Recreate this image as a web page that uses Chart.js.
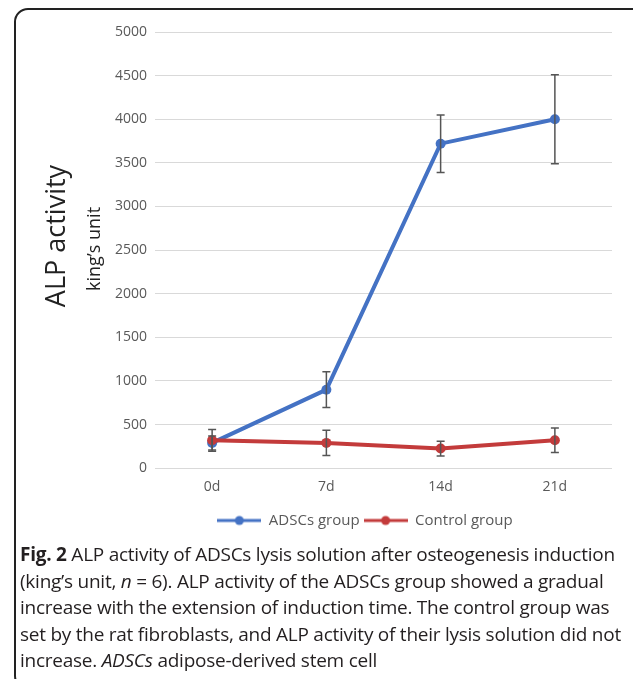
<!DOCTYPE html>
<html>
<head>
<meta charset="utf-8">
<script src="https://cdn.jsdelivr.net/npm/chart.js@4.4.1/dist/chart.umd.min.js"></script>
<style>
	html, body { margin: 0; padding: 0; width: 633px; height: 679px; overflow: hidden; background: #fff; }
	#frame { position: absolute; left: 14px; top: 8px; width: 640px; height: 682px; border: 2px solid #222; border-radius: 14px; box-sizing: border-box; }
	#wrap { position: absolute; left: 0; top: 0; width: 633px; height: 544px; }
	.ytitle { position: absolute; transform: translate(-50%, -50%) rotate(-90deg); white-space: nowrap; color: #222; font-family: "Open Sans", sans-serif; }
	#caption { position: absolute; left: 20px; top: 541px; font-family: "Open Sans", sans-serif; font-size: 19px; line-height: 26.5px; color: #231f20; white-space: nowrap; letter-spacing: -0.25px; }
</style>
</head>
<body>
<div id="frame"></div>
<div id="wrap"><canvas id="mycanvas"></canvas></div>
<div class="ytitle" style="left:54px; top:236px; font-size:27px;">ALP activity</div>
<div class="ytitle" style="left:93px; top:249px; font-size:18px;">king’s unit</div>
<div id="caption">
<b>Fig. 2</b> ALP activity of ADSCs lysis solution after osteogenesis induction<br>
(king’s unit, <i>n</i> = 6). ALP activity of the ADSCs group showed a gradual<br>
increase with the extension of induction time. The control group was<br>
set by the rat fibroblasts, and ALP activity of their lysis solution did not<br>
increase. <i>ADSCs</i> adipose-derived stem cell
</div>
<script>
var days = ['0d', '7d', '14d', '21d'];
var adscs = [290, 900, 3720, 4000];
var adscsErr = [80, 205, 330, 510];
var control = [320, 290, 225, 320];
var controlErr = [125, 145, 85, 140];
var yTicks = [0, 500, 1000, 1500, 2000, 2500, 3000, 3500, 4000, 4500, 5000];

var blue = '#4472C4';
var red = '#C33B3B';

function legendIcon(color) {
	var c = document.createElement('canvas');
	c.width = 44;
	c.height = 12;
	var g = c.getContext('2d');
	g.strokeStyle = color;
	g.lineWidth = 3;
	g.beginPath();
	g.moveTo(0, 6);
	g.lineTo(44, 6);
	g.stroke();
	g.fillStyle = color;
	g.beginPath();
	g.arc(22, 6, 4.5, 0, Math.PI * 2);
	g.fill();
	return c;
}

var errorBars = {
	id: 'errorBars',
	afterDatasetsDraw: function(chart) {
		var ctx = chart.ctx;
		var x = chart.scales.x, y = chart.scales.y;
		var sets = [[adscs, adscsErr], [control, controlErr]];
		ctx.save();
		ctx.strokeStyle = '#555';
		ctx.lineWidth = 1.5;
		sets.forEach(function(s) {
			for (var i = 0; i < s[0].length; i++) {
				var px = x.getPixelForValue(i);
				var top = y.getPixelForValue(s[0][i] + s[1][i]);
				var bot = y.getPixelForValue(s[0][i] - s[1][i]);
				ctx.beginPath();
				ctx.moveTo(px, top); ctx.lineTo(px, bot);
				ctx.moveTo(px - 4, top); ctx.lineTo(px + 4, top);
				ctx.moveTo(px - 4, bot); ctx.lineTo(px + 4, bot);
				ctx.stroke();
			}
		});
		ctx.restore();
	}
};

var chartdata = {
	labels: days,
	datasets: [
		{
			label: 'ADSCs group',
			data: adscs,
			borderColor: blue,
			backgroundColor: blue,
			borderWidth: 4,
			pointRadius: 5,
			pointBorderWidth: 0,
			pointHoverRadius: 5,
			tension: 0,
			order: 1
		},
		{
			label: 'Control group',
			data: control,
			borderColor: red,
			backgroundColor: red,
			borderWidth: 4,
			pointRadius: 5,
			pointBorderWidth: 0,
			pointHoverRadius: 5,
			tension: 0,
			order: 0
		}
	]
};

var ctx = document.getElementById('mycanvas');

new Chart(ctx, {
	type: 'line',
	data: chartdata,
	plugins: [errorBars],
	options: {
		responsive: true,
		maintainAspectRatio: false,
		animation: false,
		layout: { padding: { left: 97, right: 0, top: 32, bottom: 6 } },
		scales: {
			x: {
				offset: true,
				afterFit: function(s) { s.height = s.height + 12; },
				grid: { display: false },
				border: { display: false },
				ticks: { color: '#595959', font: { family: 'Open Sans', size: 14 }, padding: 2 }
			},
			y: {
				min: 0,
				max: 5000,
				afterBuildTicks: function(s) { s.ticks = yTicks.map(function(v) { return { value: v }; }); },
				afterFit: function(s) { s.width = 58; },
				grid: { color: '#d9d9d9', lineWidth: 1, drawTicks: false },
				border: { display: false },
				ticks: {
					color: '#595959',
					font: { family: 'Open Sans', size: 14 },
					padding: 8,
					callback: function(v) { return String(v); }
				}
			},
			// empty right-hand axis, only to keep a margin at the right
			yRight: {
				position: 'right',
				min: 0,
				max: 5000,
				afterFit: function(s) { s.width = 21; },
				grid: { display: false },
				border: { display: false },
				ticks: { display: false }
			}
		},
		plugins: {
			tooltip: { enabled: false },
			legend: {
				position: 'bottom',
				labels: {
					usePointStyle: true,
					pointStyleWidth: 44,
					boxHeight: 12,
					padding: 4,
					color: '#595959',
					font: { family: 'Open Sans', size: 15 },
					generateLabels: function(chart) {
						return chart.data.datasets.map(function(d, i) {
							return {
								text: d.label,
								pointStyle: legendIcon(d.borderColor),
								fillStyle: d.borderColor,
								strokeStyle: d.borderColor,
								lineWidth: 0,
								fontColor: '#595959',
								datasetIndex: i
							};
						});
					}
				}
			}
		}
	}
});
</script>
</body>
</html>
